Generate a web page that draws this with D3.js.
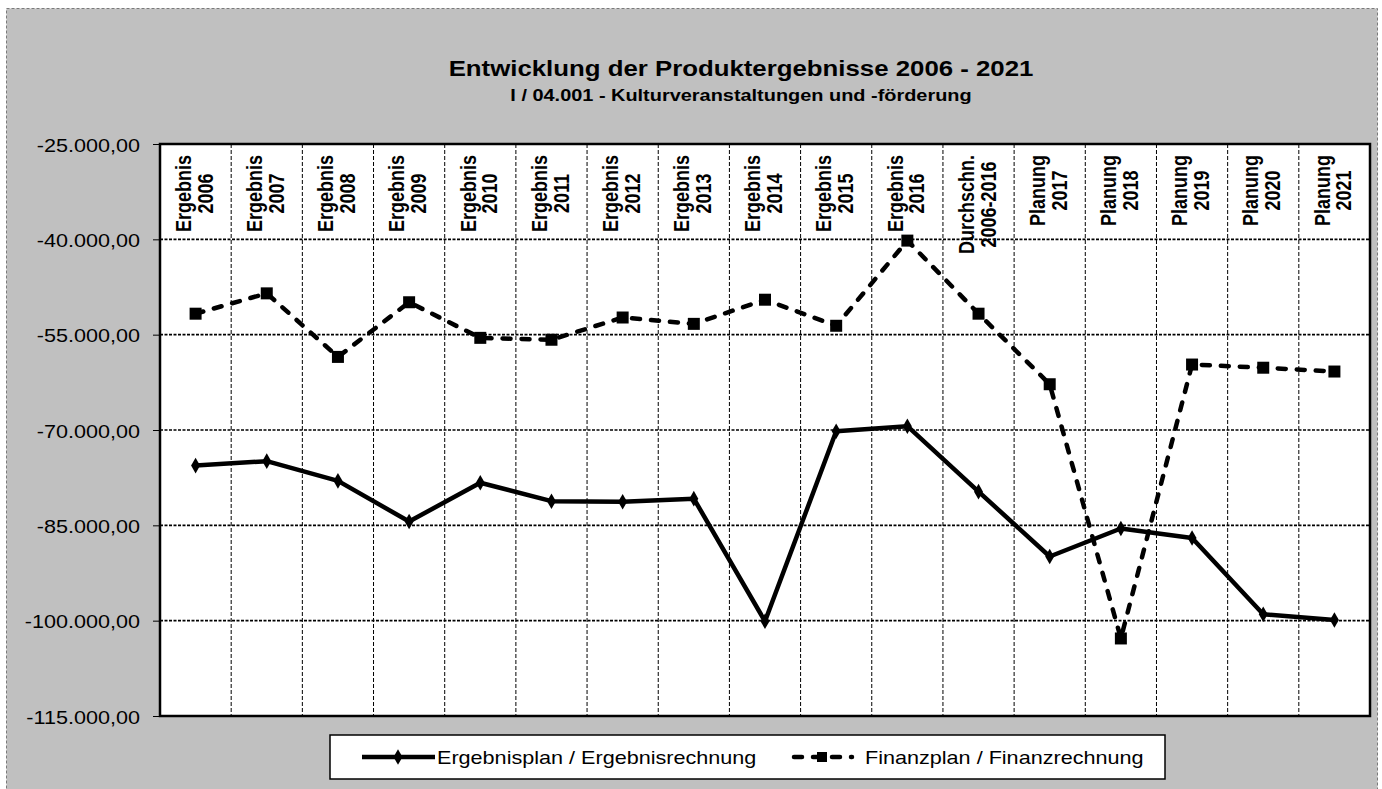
<!DOCTYPE html>
<html>
<head>
<meta charset="utf-8">
<script src="https://cdn.jsdelivr.net/npm/d3@7"></script>
<style>
  html, body { margin: 0; padding: 0; background: #fff; }
  svg { display: block; font-family: "Liberation Sans", Arial, sans-serif; }
</style>
</head>
<body>
<svg id="chart" width="1382" height="789"></svg>
<script>
// Column headings (two lines each, drawn vertically)
const categories = [
  ["Ergebnis", "2006"], ["Ergebnis", "2007"], ["Ergebnis", "2008"], ["Ergebnis", "2009"],
  ["Ergebnis", "2010"], ["Ergebnis", "2011"], ["Ergebnis", "2012"], ["Ergebnis", "2013"],
  ["Ergebnis", "2014"], ["Ergebnis", "2015"], ["Ergebnis", "2016"], ["Durchschn.", "2006-2016"],
  ["Planung", "2017"], ["Planung", "2018"], ["Planung", "2019"], ["Planung", "2020"], ["Planung", "2021"]
];

// Ergebnisplan / Ergebnisrechnung
const ergebnisValues = [
  -75600, -74900, -78000, -84400, -78300, -81200, -81300, -80800,
  -100100, -70200, -69400, -79700, -89900, -85500, -87000, -99000, -99900
];

// Finanzplan / Finanzrechnung
const finanzValues = [
  -51700, -48500, -58500, -49900, -55500, -55800, -52300, -53300,
  -49500, -53600, -40200, -51700, -62800, -102800, -59700, -60200, -60800
];

const yTicks = [-25000, -40000, -55000, -70000, -85000, -100000, -115000];
const seriesNames = ["Ergebnisplan / Ergebnisrechnung", "Finanzplan / Finanzrechnung"];
const titleText = "Entwicklung der Produktergebnisse 2006 - 2021";
const subtitleText = "I / 04.001 - Kulturveranstaltungen und -förderung";

// ---------------------------------------------------------------
const svg = d3.select("#chart");
const W = 1382, H = 789;
const plot = { left: 160, top: 144, right: 1370, bottom: 716 };
const stretch = 1.2; // horizontal widening of all lettering

const de = d3.formatLocale({ decimal: ",", thousands: ".", grouping: [3], currency: ["", " €"], minus: "-" });
const fmt = de.format(",.2f");

const x = d3.scaleBand().domain(d3.range(categories.length)).range([plot.left, plot.right]).paddingInner(0).paddingOuter(0);
const y = d3.scaleLinear().domain([-115000, -25000]).range([plot.bottom, plot.top]);
const cx = i => x(i) + x.bandwidth() / 2;

// outer chart frame
svg.append("rect").attr("x", 6.5).attr("y", 8.5).attr("width", 1371).attr("height", H)
  .attr("fill", "#c0c0c0").attr("stroke", "#7a7a7a").attr("stroke-width", 1).attr("stroke-dasharray", "3,2");

// plot background
svg.append("rect").attr("x", plot.left).attr("y", plot.top)
  .attr("width", plot.right - plot.left).attr("height", plot.bottom - plot.top).attr("fill", "#fff");

// vertical grid at category boundaries
const vLines = d3.range(1, categories.length).map(i => x(i));
svg.append("g").selectAll("line").data(vLines).join("line")
  .attr("x1", d => d).attr("x2", d => d).attr("y1", plot.top).attr("y2", plot.bottom)
  .attr("stroke", "#000").attr("stroke-width", 1).attr("stroke-dasharray", "4,2");

// horizontal grid
svg.append("g").selectAll("line").data(yTicks.slice(1, -1)).join("line")
  .attr("x1", plot.left).attr("x2", plot.right).attr("y1", d => y(d)).attr("y2", d => y(d))
  .attr("stroke", "#000").attr("stroke-width", 1.6).attr("stroke-dasharray", "3,1.5");

// y axis
const yAxis = svg.append("g").attr("transform", `translate(${plot.left},0)`)
  .call(d3.axisLeft(y).tickValues(yTicks).tickSize(7).tickPadding(0).tickFormat(fmt));
yAxis.select(".domain").remove();
yAxis.selectAll(".tick line").attr("stroke", "#000").attr("stroke-width", 1);
yAxis.selectAll(".tick text").remove();
yAxis.selectAll(".tick").append("text")
  .attr("transform", `translate(-20,7) scale(${stretch},1)`)
  .attr("text-anchor", "end").attr("fill", "#000")
  .style("font-size", "18px").style("font-family", "'Liberation Sans', Arial, sans-serif")
  .text(d => fmt(d));

// plot border
svg.append("rect").attr("x", plot.left).attr("y", plot.top)
  .attr("width", plot.right - plot.left).attr("height", plot.bottom - plot.top)
  .attr("fill", "none").attr("stroke", "#000").attr("stroke-width", 2.5);

// column headings
const headG = svg.append("g").selectAll("g").data(categories).join("g")
  .attr("transform", (d, i) => `translate(${cx(i)},155) scale(${stretch},1) rotate(-90)`);
headG.each(function (d) {
  const g = d3.select(this);
  const t1 = g.append("text").attr("y", -4).text(d[0]);
  const t2 = g.append("text").attr("y", 14.2).text(d[1]);
  [t1, t2].forEach(t => t.attr("text-anchor", "middle").attr("fill", "#000")
    .style("font-size", "18px").style("font-weight", "bold"));
  const len = Math.max(t1.node().getComputedTextLength(), t2.node().getComputedTextLength());
  t1.attr("x", -len / 2);
  t2.attr("x", -len / 2);
});

// series lines
const line = d3.line().x((d, i) => cx(i)).y(d => y(d));

svg.append("path").datum(ergebnisValues).attr("d", line)
  .attr("fill", "none").attr("stroke", "#000").attr("stroke-width", 4.5).attr("stroke-linejoin", "round");
svg.append("g").selectAll("path").data(ergebnisValues).join("path")
  .attr("transform", (d, i) => `translate(${cx(i)},${y(d)})`)
  .attr("d", d3.symbol(d3.symbolDiamond, 70)).attr("fill", "#000");

svg.append("path").datum(finanzValues).attr("d", line)
  .attr("fill", "none").attr("stroke", "#000").attr("stroke-width", 4.5)
  .attr("stroke-dasharray", "8,11").attr("stroke-linecap", "round").attr("stroke-linejoin", "round");
svg.append("g").selectAll("path").data(finanzValues).join("path")
  .attr("transform", (d, i) => `translate(${cx(i)},${y(d)})`)
  .attr("d", d3.symbol(d3.symbolSquare, 144)).attr("fill", "#000");

// titles
svg.append("text").attr("transform", `translate(741,76) scale(${stretch},1)`)
  .attr("text-anchor", "middle").attr("fill", "#000")
  .style("font-size", "21.5px").style("font-weight", "bold").text(titleText);
svg.append("text").attr("transform", `translate(741,101) scale(${stretch},1)`)
  .attr("text-anchor", "middle").attr("fill", "#000")
  .style("font-size", "16.6px").style("font-weight", "bold").text(subtitleText);

// legend
const lg = svg.append("g");
lg.append("rect").attr("x", 330).attr("y", 735).attr("width", 835).attr("height", 44)
  .attr("fill", "#fff").attr("stroke", "#000").attr("stroke-width", 1.5);
const ly = 757;
lg.append("line").attr("x1", 362).attr("x2", 435).attr("y1", ly).attr("y2", ly)
  .attr("stroke", "#000").attr("stroke-width", 4.5);
lg.append("path").attr("transform", `translate(398,${ly})`).attr("d", d3.symbol(d3.symbolDiamond, 70)).attr("fill", "#000");
lg.append("line").attr("x1", 793).attr("x2", 852).attr("y1", ly).attr("y2", ly)
  .attr("stroke", "#000").attr("stroke-width", 4.5).attr("stroke-dasharray", "8,11")
  .attr("stroke-linecap", "round").attr("stroke-dashoffset", -1);
lg.append("path").attr("transform", `translate(822,${ly})`).attr("d", d3.symbol(d3.symbolSquare, 100)).attr("fill", "#000");
lg.selectAll("text.lbl").data(seriesNames).join("text").attr("class", "lbl")
  .attr("transform", (d, i) => `translate(${i === 0 ? 437 : 865},${ly + 7}) scale(${stretch},1)`)
  .attr("fill", "#000").style("font-size", "18px").text(d => d);
</script>
</body>
</html>
